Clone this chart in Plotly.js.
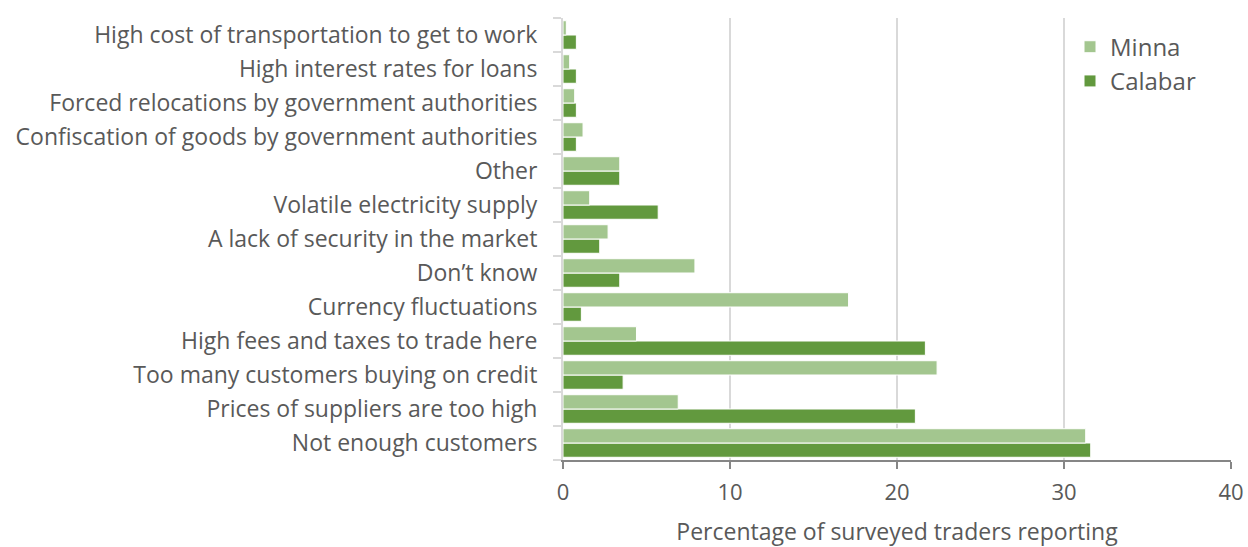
<!DOCTYPE html>
<html>
<head>
<meta charset="utf-8">
<script src="https://cdn.plot.ly/plotly-3.0.1.min.js"></script>
<style>html,body{margin:0;padding:0;background:#fff;}#chart{width:1248px;height:547px;}</style>
</head>
<body>
<div id="chart"></div>
<script>
const categories = [
  "Not enough customers",
  "Prices of suppliers are too high",
  "Too many customers buying on credit",
  "High fees and taxes to trade here",
  "Currency fluctuations",
  "Don\u2019t know",
  "A lack of security in the market",
  "Volatile electricity supply",
  "Other",
  "Confiscation of goods by government authorities",
  "Forced relocations by government authorities",
  "High interest rates for loans",
  "High cost of transportation to get to work"
];
const minna   = [31.3, 6.9, 22.4, 4.4, 17.1, 7.9, 2.7, 1.6, 3.4, 1.2, 0.7, 0.4, 0.2];
const calabar = [31.6, 21.1, 3.6, 21.7, 1.1, 3.4, 2.2, 5.7, 3.4, 0.8, 0.8, 0.8, 0.8];
const xTicks = [0, 10, 20, 30, 40];

const fontFam = "Open Sans, Noto Sans, sans-serif";
const txt = "#595959";

const traces = [
  {type: "bar", orientation: "h", name: "Calabar", y: categories, x: calabar,
   marker: {color: "#62993E", line: {color: "#ffffff", width: 1}}},
  {type: "bar", orientation: "h", name: "Minna", y: categories, x: minna,
   marker: {color: "#A3C68F", line: {color: "#ffffff", width: 1}}}
];

const layout = {
  width: 1248, height: 547,
  margin: {l: 563, r: 17, t: 18, b: 87},
  paper_bgcolor: "#ffffff", plot_bgcolor: "#ffffff",
  barmode: "group", bargap: 0.16, bargroupgap: 0,
  font: {family: fontFam, color: txt, size: 22},
  showlegend: true,
  legend: {traceorder: "reversed", x: 0.759, y: 0.985, xanchor: "left", yanchor: "top",
           bgcolor: "#ffffff", font: {size: 24, color: txt}, tracegroupgap: 2},
  xaxis: {
    range: [0, 40], tickvals: xTicks, ticktext: xTicks.map(String),
    showgrid: true, gridcolor: "#d9d9d9", gridwidth: 1.5,
    zeroline: false, showline: true, linecolor: "#868686", linewidth: 1.5,
    ticks: "outside", ticklen: 7, tickcolor: "#868686", tickwidth: 1.5,
    ticklabelstandoff: 5,
    tickfont: {size: 22, color: txt},
    title: {text: "Percentage of surveyed traders reporting", font: {size: 23, color: txt}, standoff: 22},
    fixedrange: true
  },
  yaxis: {
    type: "category", categoryorder: "array", categoryarray: categories,
    showgrid: false, zeroline: false,
    showline: true, linecolor: "#d9d9d9", linewidth: 2,
    ticks: "outside", tickson: "boundaries", ticklen: 8, tickcolor: "#d9d9d9", tickwidth: 2,
    ticklabelstandoff: 19,
    tickfont: {size: 23, color: txt},
    fixedrange: true
  }
};

Plotly.newPlot("chart", traces, layout, {displayModeBar: false, staticPlot: true});
</script>
</body>
</html>
